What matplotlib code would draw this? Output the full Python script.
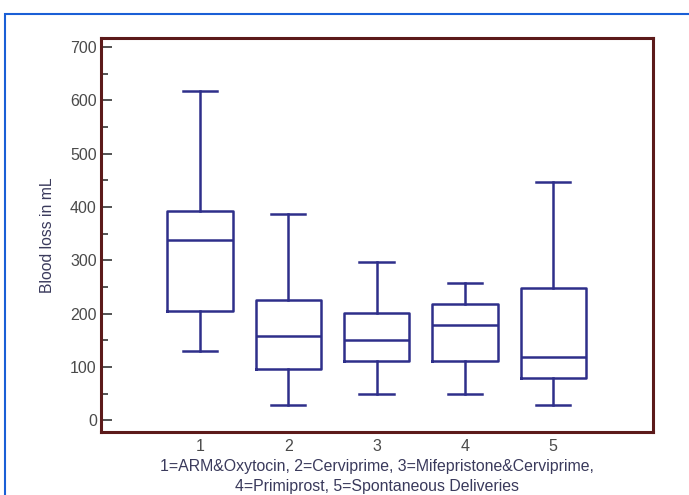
import matplotlib.pyplot as plt
from matplotlib.patches import Rectangle

plt.rcParams['font.family'] = ['Liberation Sans', 'DejaVu Sans']

groups = [1, 2, 3, 4, 5]
whislo = [129, 29, 49, 49, 29]
q1 = [205, 96, 111, 111, 79]
med = [339, 158, 150, 179, 118]
q3 = [392, 225, 201, 218, 248]
whishi = [617, 387, 296, 257, 447]
yticks = [0, 100, 200, 300, 400, 500, 600, 700]

box_col = '#2e2f8a'
spine_col = '#5c1a1a'
text_col = '#3a3a5c'

stats = [dict(whislo=lo, q1=a, med=m, q3=b, whishi=hi, fliers=[])
         for lo, a, m, b, hi in zip(whislo, q1, med, q3, whishi)]

fig = plt.figure(figsize=(6.89, 4.95), dpi=100)
fig.patches.append(Rectangle((5 / 689, -0.1), 1.2, 1 - 14 / 495 + 0.1,
                             transform=fig.transFigure, fill=False,
                             edgecolor='#1a5fd6', linewidth=1.5))

ax = fig.add_axes([101 / 689, 1 - 432 / 495, 552 / 689, 394 / 495])
lw = 1.8
ax.bxp(stats, positions=groups, widths=0.74, capwidths=0.39, showfliers=False,
       boxprops=dict(color=box_col, linewidth=lw),
       whiskerprops=dict(color=box_col, linewidth=lw),
       capprops=dict(color=box_col, linewidth=lw),
       medianprops=dict(color=box_col, linewidth=lw))

ax.set_xlim(-0.12, 6.13)
ax.set_ylim(-22, 717)
ax.set_yticks(yticks)
ax.set_yticks([y + 50 for y in yticks[:-1]], minor=True)
ax.set_xticks(groups)
ax.set_xticklabels([str(g) for g in groups])

for s in ax.spines.values():
    s.set_color(spine_col)
    s.set_linewidth(2.2)

ax.tick_params(axis='y', which='major', direction='in', length=8, width=1.3,
               color='#444444', labelcolor='#4a4a4a', labelsize=11.5, pad=3)
ax.tick_params(axis='y', which='minor', direction='in', length=5, width=1.3,
               color='#444444')
ax.tick_params(axis='x', length=0, labelcolor='#4a4a4a', labelsize=11.5, pad=5)

ax.set_ylabel('Blood loss in mL', fontsize=11.3, color=text_col)
ax.yaxis.set_label_coords(-0.083, 0.5)

cx = 377 / 689
fig.text(cx, 1 - 466 / 495, '1=ARM&Oxytocin, 2=Cerviprime, 3=Mifepristone&Cerviprime,',
         ha='center', va='center', fontsize=11.4, color=text_col)
fig.text(cx, 1 - 487 / 495, '4=Primiprost, 5=Spontaneous Deliveries',
         ha='center', va='center', fontsize=11.4, color=text_col)

fig.savefig('out.png', dpi=100)
